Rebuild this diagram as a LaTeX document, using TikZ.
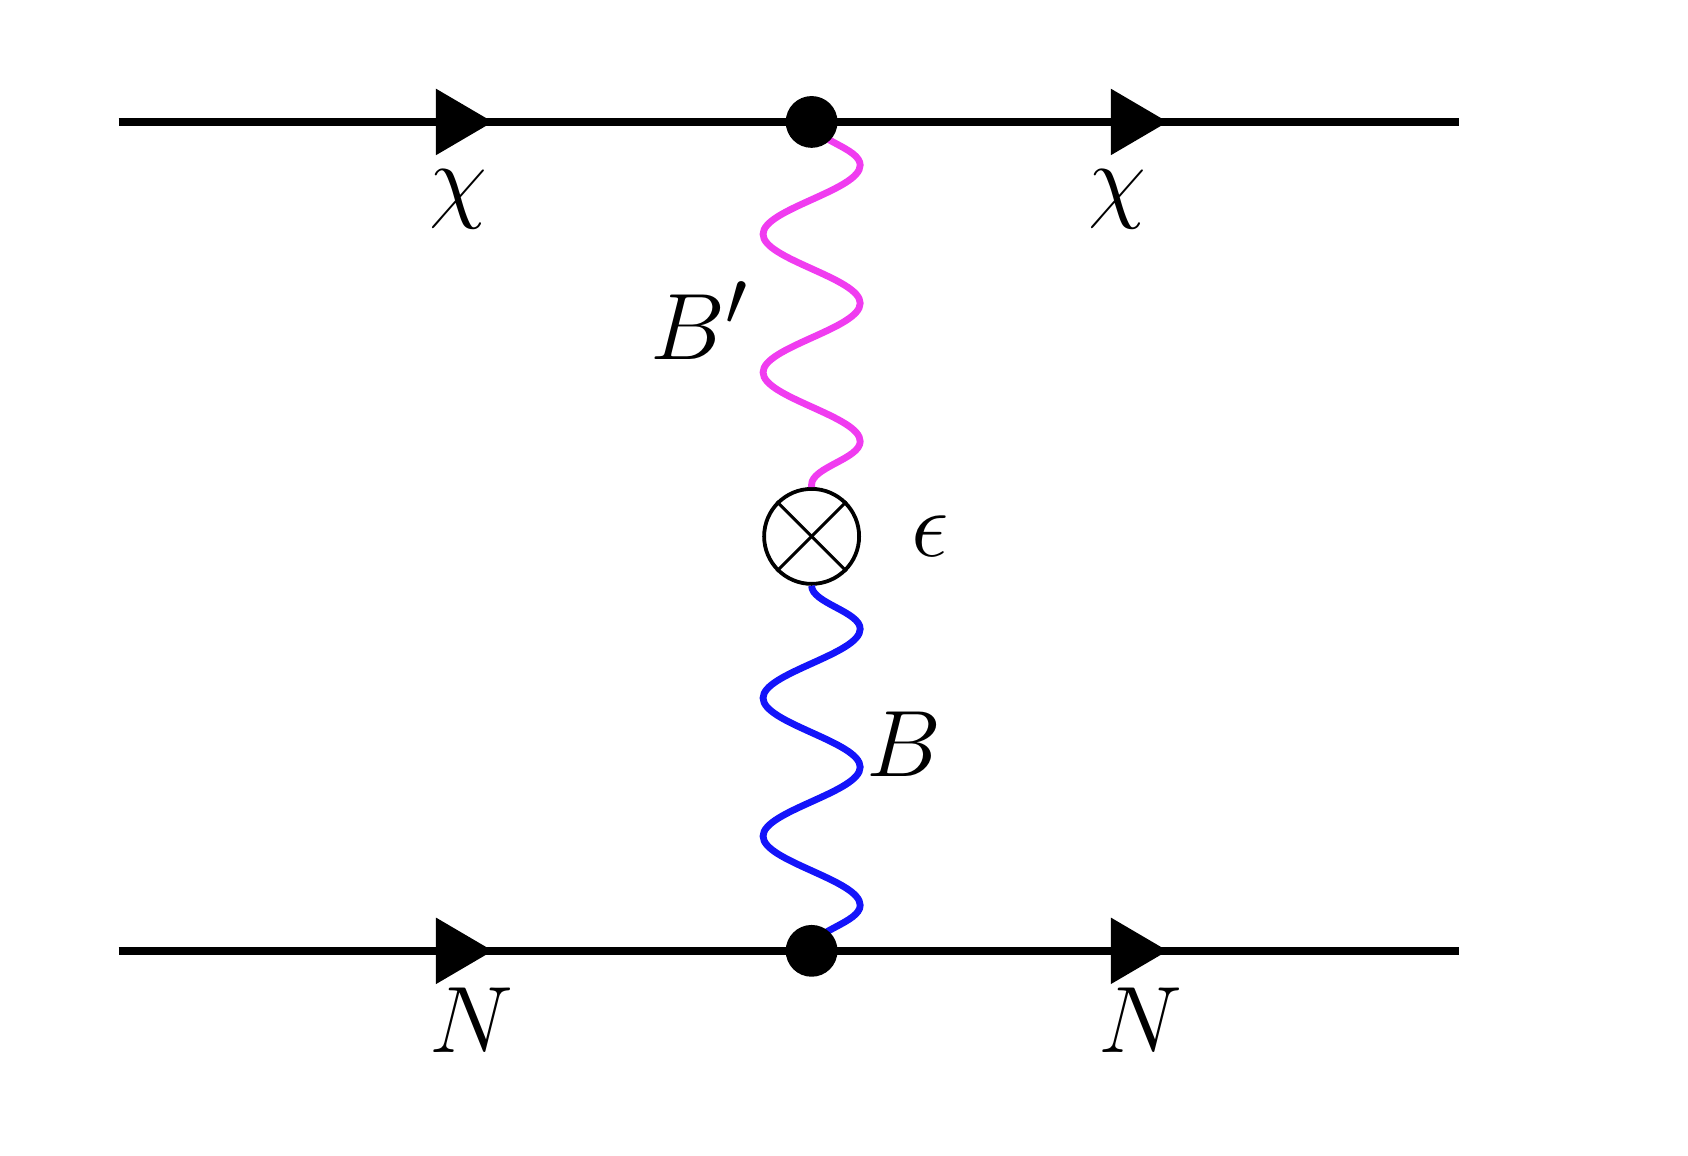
\documentclass[tikz,border=0pt]{standalone}
\usetikzlibrary{decorations.pathmorphing,decorations.markings,arrows.meta}
\definecolor{bprime}{RGB}{240,60,240}
\definecolor{bboson}{RGB}{20,20,250}
\tikzset{
  fermion/.style={line width=2pt,postaction={decorate},decoration={markings,
    mark=at position #1 with {\arrow{Triangle[length=15pt,width=17pt]}}}},
  boson/.style={line width=1.8pt,decorate,decoration={snake,segment length=1.28cm,amplitude=0.45cm}},
  vertex/.style={circle,fill,inner sep=0pt,minimum size=0.48cm},
  lbl/.style={font=\Huge}
}
\begin{document}
\begin{tikzpicture}
\useasboundingbox (0,0) rectangle (15.64,10.71);
\coordinate (ti) at (1.10,9.58);
\coordinate (to) at (13.52,9.58);
\coordinate (bi) at (1.10,1.90);
\coordinate (bo) at (13.52,1.90);
\coordinate (vt) at (7.52,9.58);
\coordinate (vb) at (7.52,1.90);
\node[circle,draw,line width=1pt,minimum size=0.88cm,inner sep=0pt] (mix) at (7.52,5.74) {};

\draw[boson,bprime] (vt) -- (mix.north);
\draw[boson,bboson] (mix.south) -- (vb);
\draw[line width=0.8pt] (mix.north west) -- (mix.south east);
\draw[line width=0.8pt] (mix.north east) -- (mix.south west);

\draw[fermion=0.54] (ti) -- (vt);
\draw[fermion=0.55] (vt) -- (to);
\draw[fermion=0.54] (bi) -- (vb);
\draw[fermion=0.55] (vb) -- (bo);

% vertices on top
\node[vertex] (dt) at (vt) {};
\node[vertex] (db) at (vb) {};

\node[lbl] (chi1) at (4.25,8.86) {$\chi$};
\node[lbl] (chi2) at (10.35,8.86) {$\chi$};
\node[lbl] (bp) at (6.48,7.74) {$B'$};
\node[lbl] (eps) at (8.62,5.74) {$\epsilon$};
\node[lbl] (bb) at (8.38,3.81) {$B$};
\node[lbl] (n1) at (4.37,1.26) {$N$};
\node[lbl] (n2) at (10.57,1.26) {$N$};
\end{tikzpicture}
\end{document}
